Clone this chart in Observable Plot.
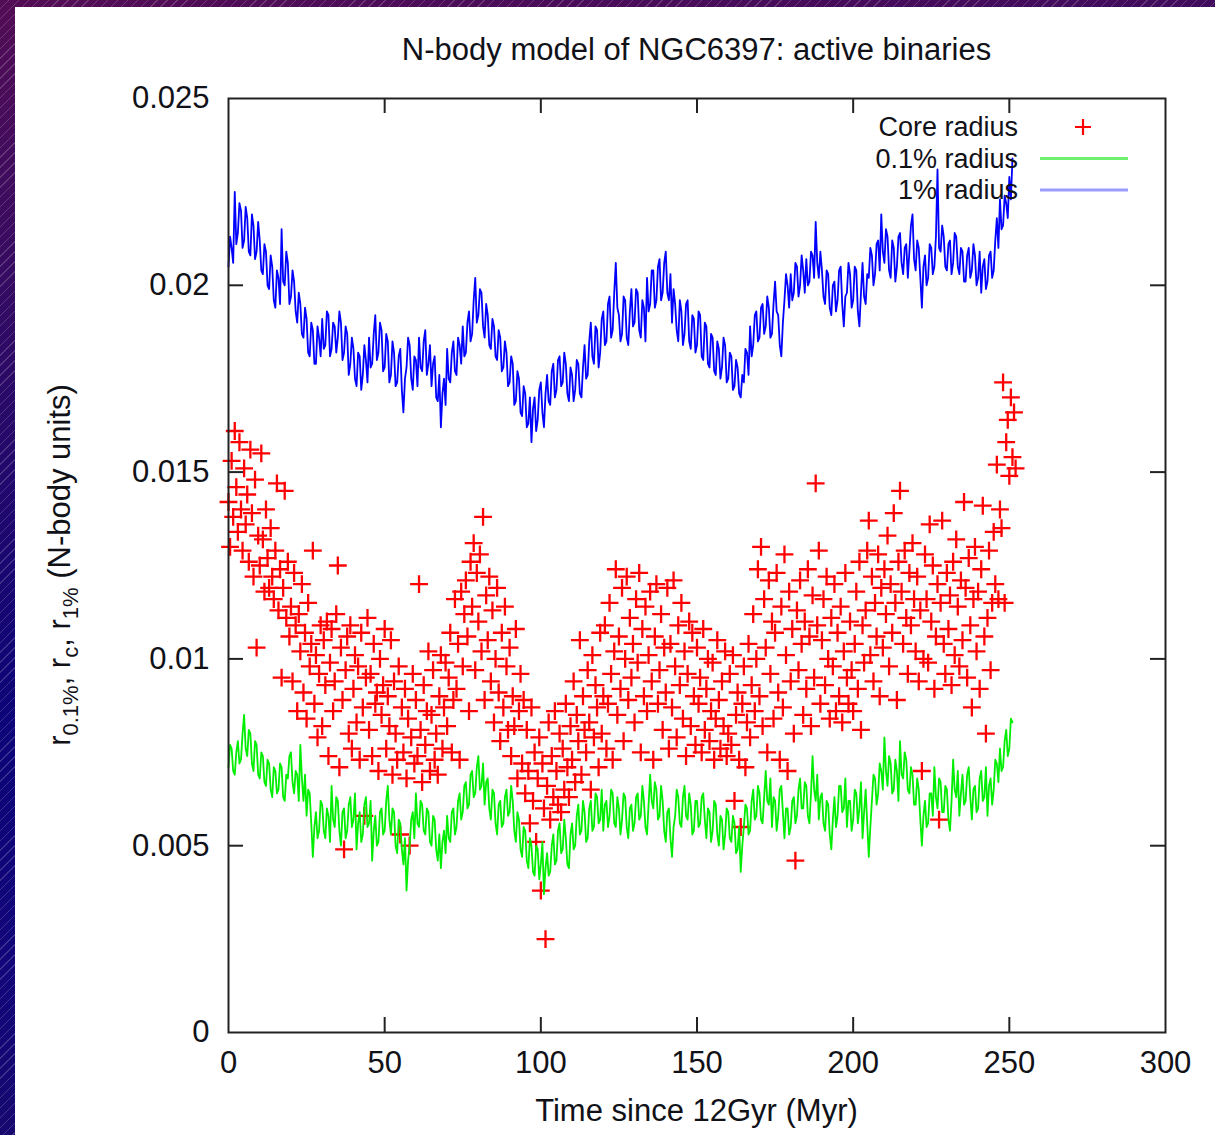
<!DOCTYPE html>
<html>
<head>
<meta charset="utf-8">
<script src="https://cdn.jsdelivr.net/npm/d3@7"></script>
<script src="https://cdn.jsdelivr.net/npm/@observablehq/plot@0.6"></script>
<style>
  html, body { margin: 0; padding: 0; }
  body {
    width: 1215px; height: 1135px; overflow: hidden; position: relative;
    background:
      repeating-linear-gradient(135deg, rgba(255,255,255,0) 0px, rgba(255,255,255,0) 6px, rgba(255,255,255,0.18) 6px, rgba(255,255,255,0.18) 7px),
      linear-gradient(172deg, #530d55 0%, #2c0a66 28%, #0c0478 55%, #12067a 75%, #1c0b62 100%);
  }
  #panel { position: absolute; left: 15px; top: 7px; width: 1200px; height: 1128px; background: #ffffff; }
  #title {
    position: absolute; left: 0; top: 34px; width: 1393px; text-align: center;
    font-family: "Liberation Sans", Arial, sans-serif; font-size: 31px; color: #111118; line-height: 32px;
  }
  #chart { position: absolute; left: 0; top: 0; }
</style>
</head>
<body>
<div id="panel"></div>
<div id="chart"></div>
<div id="title">N-body model of NGC6397: active binaries</div>
<script>
// ---------- data ----------
const titleText = "N-body model of NGC6397: active binaries";
const xLabel = "Time since 12Gyr (Myr)";
const xTicks = [0, 50, 100, 150, 200, 250, 300];
const yTicks = [0, 0.005, 0.01, 0.015, 0.02, 0.025];
const legendLabels = ["Core radius", "0.1% radius", "1% radius"];
const legendColors = ["#ff0000", "#70f070", "#9c9cff"];

// sampling of the model outputs (Myr)
const lineStep = 0.5;  // 0.1% and 1% radii
const coreStep = 0.5;  // core radius

// 1% Lagrangian radius (units of 1e-3 N-body length), every 0.5 Myr
const r1pct = [
  20.5,21.3, 21.0,20.6, 22.5,21.1, 21.4,22.2, 22.0,21.0, 21.2,22.1, 21.8,20.9, 20.8,21.9, 21.6,20.7, 20.9,21.7,
  21.2,20.4, 20.3,21.1, 20.9,20.0, 19.9,20.8, 20.5,19.6, 19.4,20.4, 20.2,19.5, 21.5,20.1, 20.0,20.9, 20.6,19.5,
  19.7,20.4, 20.1,19.3, 19.0,19.8, 19.5,18.7, 18.6,19.4, 19.1,18.2, 18.1,19.0, 18.8,17.9, 17.9,18.9, 18.6,18.1,
  19.1,18.3, 18.4,19.3, 19.2,18.1, 18.3,19.0, 18.9,18.2, 18.6,19.3, 19.0,18.0, 18.2,18.9, 18.7,17.6, 17.9,18.6,
  18.3,17.5, 17.3,18.2, 18.1,17.2, 17.6,18.4, 18.0,17.4, 18.6,17.8, 17.9,18.7, 19.2,18.0, 18.2,19.0, 18.8,17.7,
  17.8,18.7, 18.5,17.4, 17.6,18.5, 18.2,17.3, 17.4,18.1, 18.3,17.2, 16.6,17.5, 17.8,18.6, 18.4,17.5, 17.2,18.1,
  18.0,17.3, 18.6,17.8, 17.7,18.5, 18.8,17.6, 17.9,18.4, 17.3,17.9, 18.1,17.0, 16.9,17.6, 16.2,17.1, 17.5,16.8,
  18.3,17.5, 17.4,18.2, 18.5,17.7, 17.6,18.6, 18.4,17.9, 18.9,18.1, 18.2,19.0, 19.3,18.5, 18.7,19.6, 20.2,19.0,
  19.2,19.9, 19.8,18.9, 18.6,19.5, 19.2,18.4, 18.3,19.1, 18.9,18.1, 18.0,18.8, 18.6,17.7, 17.8,18.5, 18.2,17.3,
  17.4,18.1, 17.9,16.8, 16.9,17.7, 17.5,16.6, 16.5,17.3, 17.1,16.2, 16.3,17.0, 15.8,16.7, 17.0,16.1, 16.4,17.2,
  17.4,16.6, 16.2,17.1, 17.6,16.9, 16.8,17.7, 17.9,17.0, 17.2,18.0, 18.1,17.3, 17.4,18.2, 17.9,17.1, 16.9,17.8,
  17.6,16.9, 17.2,18.0, 17.9,17.1, 17.0,17.8, 18.4,17.5, 17.6,18.5, 19.0,18.1, 17.9,18.9, 18.8,17.8, 18.2,19.1,
  19.3,18.4, 18.5,19.5, 19.7,18.6, 18.8,19.8, 20.6,19.4, 19.2,18.5, 18.7,19.7, 19.6,18.6, 18.4,19.3, 19.9,18.9,
  19.0,19.9, 19.8,18.8, 18.6,19.6, 19.4,18.5, 20.2,19.3, 19.5,20.4, 20.4,19.4, 19.6,20.5, 20.7,19.6, 19.8,20.6,
  20.9,19.8, 19.6,20.3, 19.0,19.9, 19.5,18.8, 18.5,19.6, 19.3,18.4, 18.7,19.5, 19.6,18.5, 18.3,19.2, 19.1,18.2,
  18.4,19.3, 19.2,18.1, 18.0,19.0, 18.9,17.9, 17.8,18.7, 18.6,17.7, 17.6,18.5, 18.3,17.5, 17.8,18.6, 18.4,17.4,
  17.5,18.2, 18.1,17.2, 17.3,18.0, 17.8,17.1, 17.0,17.6, 17.4,18.3, 18.2,17.6, 18.9,18.1, 18.4,19.2, 19.3,18.5,
  18.6,19.4, 19.5,18.7, 18.9,19.7, 19.4,18.6, 18.7,19.5, 20.1,19.3, 19.2,18.4, 18.1,19.0, 19.6,20.3, 20.0,19.4,
  20.3,19.6, 19.8,20.6, 20.5,19.7, 20.0,20.8, 20.4,19.8, 20.7,20.0, 20.1,20.9, 20.8,20.2, 21.7,20.6, 20.2,20.9,
  20.4,19.7, 19.5,20.4, 20.3,19.4, 19.2,20.0, 20.1,19.3, 19.6,20.4, 20.5,19.5, 18.9,19.7, 19.8,20.6, 20.3,19.4,
  19.6,20.5, 20.4,19.3, 18.9,19.8, 20.6,19.7, 19.5,20.3, 20.2,21.0, 20.8,20.0, 20.3,21.1, 21.2,20.4, 21.9,20.9,
  20.6,21.5, 21.3,20.4, 20.2,21.2, 21.0,20.1, 20.5,21.3, 21.4,20.6, 20.3,21.0, 21.1,20.2, 20.9,21.6, 21.9,20.7,
  20.4,21.2, 21.0,20.2, 19.4,20.5, 20.8,20.0, 20.2,21.1, 21.0,20.3, 20.5,21.3, 23.1,21.0, 20.9,21.6, 21.3,20.5,
  20.4,21.1, 21.2,20.3, 20.6,21.4, 21.3,20.5, 20.3,21.0, 20.9,20.1, 20.1,20.8, 21.0,20.2, 20.4,21.1, 20.8,20.0,
  20.2,20.9, 19.8,20.5, 20.7,19.9, 20.1,20.8, 20.9,20.2, 20.4,21.2, 21.8,21.0, 22.3,21.5, 21.6,22.4, 22.2,21.8,
  22.9,22.3, 23.4
];

// 0.1% Lagrangian radius (units of 1e-3 N-body length), every 0.5 Myr
const r01pct = [
  7.1,7.7, 7.6,7.0, 6.9,7.5, 7.8,7.2, 7.3,8.0, 8.5,7.6, 7.4,8.1, 8.0,7.2, 7.0,7.8, 7.7,6.9,
  6.8,7.5, 7.4,6.7, 6.6,7.3, 7.2,6.5, 6.3,7.1, 7.0,6.4, 6.5,7.2, 7.1,6.3, 6.2,6.9, 6.8,7.4,
  7.5,6.7, 6.4,7.0, 6.9,6.2, 7.7,6.8, 6.2,6.9, 5.8,6.5, 6.4,5.6, 4.7,5.5, 5.9,5.2, 5.4,6.2,
  6.1,5.4, 5.2,6.0, 5.8,5.1, 6.6,5.7, 5.5,6.3, 6.2,5.4, 5.0,5.9, 6.0,5.2, 5.4,6.1, 6.3,5.5,
  5.7,6.4, 4.9,5.6, 5.9,5.1, 5.3,6.1, 6.3,5.5, 5.6,6.2, 4.6,5.4, 5.8,5.0, 5.1,5.9, 6.0,5.3,
  5.4,6.2, 6.6,5.7, 5.3,6.0, 5.9,5.0, 4.8,5.7, 5.6,4.9, 4.5,5.2, 3.8,4.6, 5.0,5.7, 5.9,5.2,
  6.4,5.6, 5.5,6.2, 6.1,5.4, 5.3,6.0, 5.9,5.1, 5.0,5.8, 5.7,4.9, 4.6,5.3, 4.4,5.1, 5.4,4.8,
  5.8,5.2, 5.1,5.9, 6.0,5.3, 5.5,6.2, 6.4,5.7, 5.9,6.6, 6.7,6.0, 6.1,6.9, 7.0,6.3, 6.4,7.1,
  7.4,6.5, 6.6,7.2, 6.1,6.7, 6.8,6.0, 5.7,6.5, 6.4,5.6, 5.3,6.1, 6.2,5.5, 5.6,6.3, 6.5,5.8,
  5.9,6.6, 6.2,5.4, 5.1,5.9, 5.7,4.9, 4.7,5.5, 5.4,4.6, 4.4,5.2, 5.0,4.3, 4.2,5.0, 4.9,4.1,
  4.5,5.1, 3.7,4.4, 4.8,4.2, 4.3,5.0, 5.3,4.5, 4.6,5.4, 5.6,4.8, 4.9,5.7, 5.2,4.5, 4.4,5.3,
  5.6,4.9, 5.0,5.8, 6.1,5.3, 5.4,6.2, 5.9,5.1, 5.2,6.0, 6.2,5.4, 5.5,6.4, 6.3,5.6, 5.7,6.5,
  5.4,6.1, 6.2,5.5, 5.8,6.5, 6.4,5.6, 5.5,6.3, 6.0,5.3, 5.7,6.4, 6.3,5.5, 5.2,6.0, 6.1,5.4,
  5.6,6.3, 6.4,5.7, 5.8,6.6, 6.2,5.5, 5.3,6.1, 6.9,6.2, 6.0,6.7, 6.5,5.7, 5.8,6.6, 6.2,5.4,
  5.1,5.9, 6.0,5.2, 4.7,5.5, 5.8,6.5, 6.3,5.6, 5.5,6.3, 6.6,5.8, 5.7,6.4, 6.1,5.3, 5.4,6.2,
  6.2,5.5, 5.6,6.3, 6.4,5.7, 5.2,6.0, 5.9,5.1, 5.4,6.2, 6.1,5.3, 5.0,5.8, 5.7,4.9, 5.3,6.0,
  5.9,5.2, 5.1,5.8, 5.6,4.8, 4.9,5.5, 4.3,5.0, 5.5,6.1, 6.0,5.3, 5.4,6.2, 6.5,5.7, 5.8,6.6,
  6.4,5.7, 5.6,6.3, 7.0,6.2, 6.1,6.8, 5.5,6.3, 6.2,5.4, 5.8,6.5, 6.6,5.9, 5.2,6.0, 6.0,5.3,
  5.5,6.2, 6.3,5.6, 5.8,6.5, 6.8,6.0, 6.0,6.7, 6.6,5.8, 5.6,6.4, 7.4,6.5, 6.2,6.9, 5.7,6.3,
  6.4,5.6, 5.4,6.2, 6.1,5.3, 4.9,5.7, 6.3,5.5, 5.8,6.6, 6.6,5.9, 6.0,6.8, 5.5,6.2, 6.2,5.4,
  5.7,6.5, 6.4,5.6, 6.0,6.7, 5.2,5.9, 6.5,5.6, 4.7,5.5, 6.2,6.9, 6.8,6.1, 6.4,7.2, 7.0,6.5,
  7.9,7.0, 6.6,7.4, 7.2,6.4, 6.5,7.3, 7.0,6.2, 7.8,6.9, 6.8,7.5, 7.3,6.5, 6.4,7.1, 6.9,6.1,
  6.1,6.8, 6.5,5.7, 5.0,5.8, 6.2,5.5, 5.6,6.4, 6.4,5.8, 7.1,6.3, 6.0,6.8, 6.7,5.9, 5.9,6.6,
  6.5,5.7, 5.4,6.2, 7.3,6.5, 6.3,7.0, 5.8,6.4, 6.9,6.1, 6.2,6.9, 7.1,6.3, 5.7,6.5, 6.6,5.9,
  6.0,6.8, 7.0,6.2, 6.3,7.1, 5.8,6.6, 6.8,6.1, 6.5,7.3, 7.2,6.7, 7.6,7.0, 7.1,7.8, 8.1,7.4,
  7.6,8.4, 8.3
];

// core radius (units of 1e-3 N-body length), every 0.5 Myr
const rCore = [
  14.2, 13.0, 15.3, 13.8, 16.1, 14.6, 13.4, 15.8, 14.0, 12.9,
  15.1, 13.6, 14.4, 12.6, 15.6, 13.9, 12.2, 14.8, 10.3, 13.3,
  12.5, 15.5, 13.2, 11.8, 14.0, 12.7, 11.9, 13.5, 12.2, 11.6,
  12.9, 14.7, 11.3, 12.4, 9.5, 11.9, 14.5, 11.1, 12.6, 10.6,
  11.4, 9.4, 12.3, 10.9, 8.6, 11.2, 10.2, 12.0, 9.1, 10.7,
  8.4, 11.5, 9.8, 10.4, 12.9, 8.8, 10.1, 7.9, 9.6, 10.9,
  8.2, 10.5, 9.3, 11.0, 7.4, 9.9, 10.8, 8.6, 9.4, 11.2,
  12.5, 7.1, 10.3, 8.9, 4.9, 9.7, 10.6, 8.0, 10.9, 7.6,
  9.2, 10.1, 8.3, 9.8, 7.3, 10.7, 8.7, 5.8, 9.5, 11.1,
  8.1, 9.6, 7.4, 10.4, 8.8, 9.1, 7.0, 10.0, 8.5, 9.3,
  10.8, 7.6, 9.0, 8.2, 10.5, 6.9, 9.4, 8.0, 7.3, 9.8,
  5.3, 8.7, 7.5, 9.2, 6.8, 8.4, 5.0, 7.9, 9.6, 7.2,
  8.9, 7.4, 12.0, 8.1, 6.7, 9.3, 7.7, 8.6, 10.2, 7.0,
  8.5, 9.7, 7.3, 8.0, 6.9, 9.0, 10.1, 7.6, 8.7, 9.9,
  8.2, 9.5, 10.7, 7.5, 8.9, 11.6, 9.2, 10.4, 7.3, 11.8,
  9.8, 11.2, 12.1, 10.6, 8.6, 12.6, 11.4, 13.1, 9.7, 12.3,
  11.0, 12.8, 10.2, 13.8, 8.9, 11.7, 10.5, 12.2, 9.4, 11.3,
  8.3, 10.0, 11.9, 9.1, 7.8, 10.7, 8.7, 11.4, 9.8, 8.1,
  10.3, 7.4, 9.0, 8.2, 10.8, 6.8, 8.6, 9.6, 7.2, 8.9,
  6.4, 8.1, 7.0, 5.6, 8.7, 6.2, 7.5, 5.1, 6.8, 7.9,
  3.8, 7.2, 6.0, 2.5, 6.6, 8.3, 5.7, 7.4, 6.3, 8.6,
  7.0, 6.1, 8.0, 5.9, 7.6, 6.5, 8.8, 7.1, 6.3, 8.2,
  7.3, 9.4, 6.7, 8.5, 7.8, 10.5, 6.9, 9.0, 8.1, 7.5,
  9.7, 8.3, 6.5, 10.1, 7.9, 9.3, 8.7, 7.1, 10.7, 8.0,
  9.0, 10.9, 7.6, 8.8, 11.5, 9.6, 7.3, 10.2, 12.4, 8.5,
  10.6, 9.2, 11.9, 7.8, 10.0, 12.2, 8.9, 11.1, 9.5, 10.4,
  8.3, 11.6, 9.9, 12.3, 7.5, 10.8, 9.0, 11.4, 8.6, 10.1,
  11.8, 9.4, 7.3, 10.6, 12.0, 8.8, 9.7, 11.2, 8.1, 10.3,
  9.1, 11.9, 7.6, 10.4, 8.7, 12.1, 9.8, 7.9, 10.9, 9.3,
  11.5, 8.4, 10.2, 7.4, 9.6, 11.0, 8.2, 10.7, 9.0, 7.7,
  10.3, 8.8, 9.5, 7.5, 10.8, 8.1, 9.2, 10.0, 7.8, 8.6,
  9.9, 7.3, 8.4, 10.5, 8.9, 7.6, 9.4, 8.2, 10.2, 7.4,
  8.0, 9.6, 7.7, 10.1, 6.2, 8.5, 9.1, 7.3, 5.5, 8.8,
  9.8, 7.1, 8.3, 10.4, 7.9, 9.3, 11.2, 8.6, 10.0, 12.4,
  9.0, 13.0, 8.2, 11.6, 10.3, 7.5, 12.1, 9.6, 11.0, 8.4,
  10.7, 12.3, 9.1, 7.3, 11.4, 8.7, 12.8, 10.1, 7.0, 11.8,
  9.4, 10.8, 8.0, 4.6, 11.3, 9.7, 12.1, 10.4, 8.5, 11.0,
  9.2, 12.4, 10.6, 8.2, 11.7, 9.5, 14.7, 10.9, 12.9, 8.8,
  10.5, 11.6, 9.3, 12.2, 10.0, 8.4, 11.1, 9.8, 12.0, 8.6,
  10.7, 9.0, 11.4, 8.3, 10.2, 12.3, 9.5, 8.8, 11.0, 9.7,
  8.6, 10.4, 11.8, 9.2, 12.6, 8.1, 10.9, 9.9, 11.3, 12.9,
  13.7, 10.1, 12.2, 9.4, 11.5, 10.6, 12.8, 9.0, 11.9, 10.3,
  12.4, 11.2, 13.3, 9.8, 12.0, 10.7, 13.9, 11.5, 8.9, 12.6,
  14.5, 11.8, 10.4, 12.9, 11.1, 9.6, 12.3, 10.9, 13.1, 11.6,
  10.2, 12.2, 9.4, 11.3, 7.0, 10.0, 12.8, 11.6, 9.9, 13.6,
  11.0, 12.5, 9.2, 10.6, 12.0, 5.7, 11.5, 13.7, 10.4, 9.6,
  12.3, 10.8, 11.7, 9.3, 12.6, 10.1, 13.2, 11.4, 9.8, 12.1,
  10.5, 14.2, 11.9, 9.5, 12.7, 10.9, 8.7, 11.6, 13.0, 10.2,
  11.8, 9.2, 12.4, 14.1, 10.6, 8.0, 11.1, 12.9, 9.7, 11.5,
  13.4, 12.0, 15.2, 11.6, 14.0, 13.5, 17.4, 11.5, 15.8, 16.4,
  14.9, 17.0, 15.4, 16.6, 15.1
];

// ---------- build tables ----------
const unit = 1e-3;
const lineData = r1pct.map((v, i) => ({t: i * lineStep, r1: v * unit, r01: r01pct[i] * unit}));
const coreData = rCore.map((v, i) => ({t: i * coreStep, rc: v * unit}));

// ---------- layout ----------
const W = 1215, H = 1135;
const mL = 228, mR = 50, mT = 98, mB = 103;
const frameW = W - mL - mR, frameH = H - mT - mB;
const tickLen = 15;
const ink = "#111118";
const font = "'Liberation Sans', Arial, Helvetica, sans-serif";

const chart = Plot.plot({
  width: W, height: H,
  marginLeft: mL, marginRight: mR, marginTop: mT, marginBottom: mB,
  style: {fontFamily: font, fontSize: "31px", color: ink, background: "transparent", overflow: "visible"},
  x: {domain: [0, 300]},
  y: {domain: [0, 0.025]},
  marks: [
    Plot.axisX(xTicks, {tickSize: 0, tickPadding: 18, label: null, tickFormat: d => String(d)}),
    Plot.axisY(yTicks, {tickSize: 0, tickPadding: 19, label: null, tickFormat: d => String(d)}),
    Plot.tickX(xTicks.slice(1, -1), {x: d => d, insetTop: frameH - tickLen, stroke: "#222", strokeWidth: 2}),
    Plot.tickX(xTicks.slice(1, -1), {x: d => d, insetBottom: frameH - tickLen, stroke: "#222", strokeWidth: 2}),
    Plot.tickY(yTicks.slice(1, -1), {y: d => d, insetRight: frameW - tickLen, stroke: "#222", strokeWidth: 2}),
    Plot.tickY(yTicks.slice(1, -1), {y: d => d, insetLeft: frameW - tickLen, stroke: "#222", strokeWidth: 2}),
    Plot.dot(coreData, {x: "t", y: "rc", symbol: "plus", r: 5.8, stroke: "#ff0000", strokeWidth: 2.3}),
    Plot.line(lineData, {x: "t", y: "r01", stroke: "#00ee00", strokeWidth: 1.8}),
    Plot.line(lineData, {x: "t", y: "r1", stroke: "#0000ff", strokeWidth: 1.8}),
    Plot.frame({stroke: "#222", strokeWidth: 2})
  ]
});
document.getElementById("chart").appendChild(chart);

const svg = d3.select(chart);

// x axis label
svg.append("text")
  .attr("x", mL + frameW / 2).attr("y", 1121)
  .attr("text-anchor", "middle").attr("fill", ink)
  .style("font-family", font).style("font-size", "31px")
  .text(xLabel);

// y axis label with subscripts
const yl = svg.append("text")
  .attr("transform", `translate(70, ${mT + frameH / 2}) rotate(-90)`)
  .attr("text-anchor", "middle").attr("fill", ink)
  .style("font-family", font).style("font-size", "31px");
const parts = [["r", false], ["0.1%", true], [", r", false], ["c", true], [", r", false], ["1%", true], [" (N-body units)", false]];
parts.forEach(([s, sub], i) => {
  const ts = yl.append("tspan").text(s);
  if (sub) ts.attr("dy", 8).style("font-size", "22px");
  else if (i > 0 && parts[i - 1][1]) ts.attr("dy", -8);
});

// legend (inside top right)
const legX = 1018, legY0 = 127, legDy = 31.5;
legendLabels.forEach((lab, i) => {
  const y = legY0 + i * legDy;
  svg.append("text").attr("x", legX).attr("y", y).attr("dy", "0.35em")
    .attr("text-anchor", "end").attr("fill", ink)
    .style("font-family", font).style("font-size", "27px").text(lab);
  if (i === 0) {
    svg.append("path").attr("d", `M${1075},${y}h16M${1083},${y - 8}v16`)
      .attr("stroke", legendColors[0]).attr("stroke-width", 2.2).attr("fill", "none");
  } else {
    svg.append("line").attr("x1", 1040).attr("x2", 1128).attr("y1", y).attr("y2", y)
      .attr("stroke", legendColors[i]).attr("stroke-width", 3);
  }
});
</script>
</body>
</html>
